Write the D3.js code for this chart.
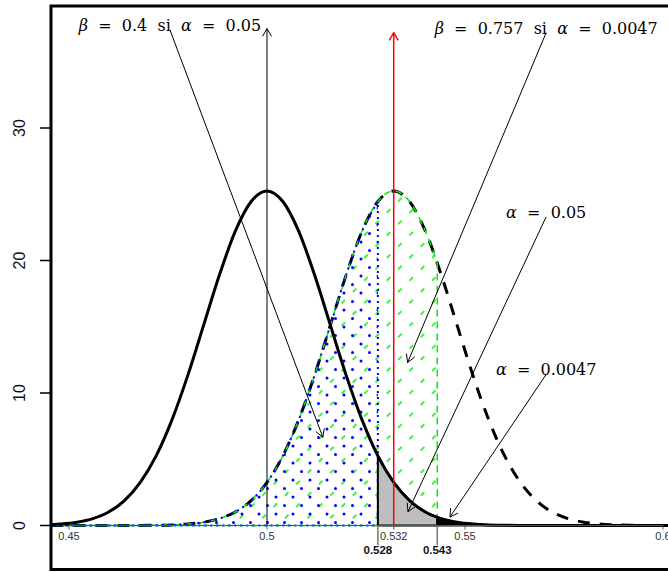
<!DOCTYPE html>
<html>
<head>
<meta charset="utf-8">
<script src="https://cdn.jsdelivr.net/npm/d3@7/dist/d3.min.js"></script>
<style>
    body { margin: 0; background: #ffffff; }
    svg { display: block; font-family: "Liberation Sans", Arial, sans-serif; }
</style>
</head>
<body>
<svg id="drawing_region"></svg>
<script>
// proportion grid and the two densities
const grid = [0.440, 0.444, 0.448, 0.452, 0.456, 0.460, 0.464, 0.468, 0.472, 0.476,
              0.480, 0.484, 0.488, 0.492, 0.496, 0.500, 0.504, 0.508, 0.512, 0.516,
              0.520, 0.524, 0.528, 0.532, 0.536, 0.540, 0.544, 0.548, 0.552, 0.556,
              0.560, 0.564, 0.568, 0.572, 0.576, 0.580, 0.584, 0.588, 0.592, 0.596,
              0.600, 0.604, 0.608, 0.612, 0.616, 0.620];
const densityH0 = [0.019, 0.047, 0.112, 0.250, 0.523, 1.02, 1.88, 3.25, 5.25, 7.97,
                   11.33, 15.12, 18.92, 22.21, 24.45, 25.25, 24.45, 22.21, 18.92, 15.12,
                   11.33, 7.97, 5.25, 3.25, 1.88, 1.02, 0.523, 0.250, 0.112, 0.047,
                   0.019, 0.007, 0.002, 0.001, 0, 0, 0, 0, 0, 0,
                   0, 0, 0, 0, 0, 0];
const densityH1 = [0, 0, 0, 0, 0, 0.001, 0.002, 0.007, 0.019, 0.047,
                   0.112, 0.250, 0.523, 1.02, 1.88, 3.25, 5.25, 7.97, 11.33, 15.12,
                   18.92, 22.21, 24.45, 25.25, 24.45, 22.21, 18.92, 15.12, 11.33, 7.97,
                   5.25, 3.25, 1.88, 1.02, 0.523, 0.250, 0.112, 0.047, 0.019, 0.007,
                   0.002, 0.001, 0, 0, 0, 0];

// critical values and the curve heights there
const cutoffs = [0.528, 0.543];
const h0AtCutoffs = [5.25, 0.62];
const h1AtCutoffs = [24.45, 19.82];

// means (vertical arrows)
const means = [0.5, 0.532];
const meanArrowTop = [37.5, 37.2];

const xTicks = [0.45, 0.5, 0.532, 0.55, 0.6];
const yTicks = [0, 10, 20, 30];

// annotations
const labels = ["β  =  0.4  si  α  =  0.05", "β  =  0.757  si  α  =  0.0047", "α  =  0.05", "α  =  0.0047"];
const labelX = [0.4755, 0.5705, 0.5705, 0.5705];
const labelY = [37.4, 37.2, 23.3, 11.4];
const arrowTipX = [0.5141, 0.5355, 0.5356, 0.5462];
const arrowTipY = [6.66, 12.3, 1.04, 0.64];

const config = {
    parent: '#drawing_region',
    width: 668,
    height: 572,
    box: {left: 51, top: 6, bottom: 569.5}
};

const svg = d3.select(config.parent)
    .attr('width', config.width)
    .attr('height', config.height);

const xscale = d3.scaleLinear().domain([0.45, 0.6]).range([69, 663]);
const yscale = d3.scaleLinear().domain([0, 30]).range([525.5, 128]);

const defs = svg.append('defs');
defs.append('clipPath').attr('id', 'plot_clip')
    .append('rect')
    .attr('x', config.box.left).attr('y', config.box.top)
    .attr('width', 800).attr('height', config.box.bottom - config.box.top);

// green dashed hatching (45 degrees)
const hatch = defs.append('pattern').attr('id', 'hatch')
    .attr('patternUnits', 'userSpaceOnUse')
    .attr('width', 16).attr('height', 16)
    .attr('patternTransform', 'rotate(45)');
hatch.append('line')
    .attr('x1', 8).attr('y1', 0).attr('x2', 8).attr('y2', 16)
    .attr('stroke', '#00ee00').attr('stroke-width', 1.5)
    .attr('stroke-dasharray', '5,11');

// blue staggered dots
const dots = defs.append('pattern').attr('id', 'dots')
    .attr('patternUnits', 'userSpaceOnUse')
    .attr('width', 17).attr('height', 17);
dots.append('circle')
    .attr('cx', 4).attr('cy', 4).attr('r', 1.5)
    .attr('fill', '#0000ff');
dots.append('circle')
    .attr('cx', 12.5).attr('cy', 12.5).attr('r', 1.5)
    .attr('fill', '#0000ff');

const chart = svg.append('g').attr('clip-path', 'url(#plot_clip)');

const pts = (ys) => grid.map((x, i) => ({x: x, y: ys[i]}));
const h0 = pts(densityH0);
const h1 = pts(densityH1);

const line = d3.line()
    .x(d => xscale(d.x)).y(d => yscale(d.y))
    .curve(d3.curveMonotoneX);
const area = d3.area()
    .x(d => xscale(d.x)).y0(yscale(0)).y1(d => yscale(d.y))
    .curve(d3.curveMonotoneX);

// alternative hypothesis, dashed
chart.append('path')
    .attr('d', line(h1))
    .attr('fill', 'none').attr('stroke', 'black')
    .attr('stroke-width', 3).attr('stroke-dasharray', '12,10');

// beta for alpha = 0.0047 (green hatch)
const greenPts = h1.filter(d => d.x < cutoffs[1]).concat([{x: cutoffs[1], y: h1AtCutoffs[1]}]);
chart.append('path')
    .attr('d', area(greenPts))
    .attr('fill', 'url(#hatch)')
    .attr('stroke', '#00ee00').attr('stroke-width', 1.5)
    .attr('stroke-dasharray', '7,5');

// beta for alpha = 0.05 (blue dots)
const bluePts = h1.filter(d => d.x < cutoffs[0]).concat([{x: cutoffs[0], y: h1AtCutoffs[0]}]);
chart.append('path')
    .attr('d', area(bluePts))
    .attr('fill', 'url(#dots)')
    .attr('stroke', '#0000ff').attr('stroke-width', 2)
    .attr('stroke-dasharray', '2,4');

// alpha between the two critical values (grey)
const greyPts = [{x: cutoffs[0], y: h0AtCutoffs[0]}]
    .concat(h0.filter(d => d.x > cutoffs[0] && d.x < cutoffs[1]))
    .concat([{x: cutoffs[1], y: h0AtCutoffs[1]}]);
chart.append('path')
    .attr('d', area(greyPts))
    .attr('fill', '#bebebe')
    .attr('stroke', 'black').attr('stroke-width', 2);

// alpha = 0.0047 tail (black)
const blackPts = [{x: cutoffs[1], y: h0AtCutoffs[1]}]
    .concat(h0.filter(d => d.x > cutoffs[1]));
chart.append('path')
    .attr('d', area(blackPts))
    .attr('fill', 'black')
    .attr('stroke', 'black').attr('stroke-width', 2);

// null hypothesis, solid
chart.append('path')
    .attr('d', line(h0))
    .attr('fill', 'none').attr('stroke', 'black')
    .attr('stroke-width', 3);

// arrows
function arrow(g, x0, y0, x1, y1, color, width) {
    g.append('line')
        .attr('x1', x0).attr('y1', y0).attr('x2', x1).attr('y2', y1)
        .attr('stroke', color).attr('stroke-width', width);
    const a = Math.atan2(y1 - y0, x1 - x0);
    const len = 9;
    [Math.PI / 6, -Math.PI / 6].forEach(w => {
        g.append('line')
            .attr('x1', x1).attr('y1', y1)
            .attr('x2', x1 - len * Math.cos(a + w))
            .attr('y2', y1 - len * Math.sin(a + w))
            .attr('stroke', color).attr('stroke-width', width);
    });
}

means.forEach((m, i) => {
    arrow(chart, xscale(m), yscale(0), xscale(m), yscale(meanArrowTop[i]),
          i === 0 ? 'black' : '#ff0000', i === 0 ? 1 : 1.5);
});

labels.forEach((t, i) => {
    arrow(chart, xscale(labelX[i]), yscale(labelY[i]),
          xscale(arrowTipX[i]), yscale(arrowTipY[i]), 'black', 1);
});

// annotation text
labels.forEach((t, i) => {
    const text = svg.append('text')
        .attr('x', xscale(labelX[i]))
        .attr('y', yscale(labelY[i]) + 1)
        .attr('text-anchor', 'middle')
        .attr('font-family', '"DejaVu Serif", serif')
        .attr('font-size', 16)
        .attr('fill', 'black')
        .attr('xml:space', 'preserve')
        .style('white-space', 'pre');
    t.split(/([αβ])/).filter(s => s.length).forEach(s => {
        text.append('tspan')
            .attr('font-style', /[αβ]/.test(s) ? 'italic' : 'normal')
            .text(s);
    });
});

// x axis at y = 0
const axisG = svg.append('g');
axisG.append('line')
    .attr('x1', xscale(0.45)).attr('x2', xscale(0.6))
    .attr('y1', yscale(0)).attr('y2', yscale(0))
    .attr('stroke', '#555');
axisG.selectAll('.xtick').data(xTicks).enter().append('line')
    .attr('x1', d => xscale(d)).attr('x2', d => xscale(d))
    .attr('y1', yscale(0)).attr('y2', yscale(0) + 4)
    .attr('stroke', '#555');
axisG.selectAll('.xlabel').data(xTicks).enter().append('text')
    .attr('x', d => xscale(d)).attr('y', 540)
    .attr('text-anchor', 'middle')
    .attr('font-size', 11).attr('fill', '#333')
    .text(d => d);
axisG.selectAll('.ctick').data(cutoffs).enter().append('line')
    .attr('x1', d => xscale(d)).attr('x2', d => xscale(d))
    .attr('y1', yscale(0)).attr('y2', 545)
    .attr('stroke', '#777').attr('stroke-width', 1.5);
axisG.selectAll('.clabel').data(cutoffs).enter().append('text')
    .attr('x', d => xscale(d)).attr('y', 554)
    .attr('text-anchor', 'middle')
    .attr('font-size', 11.5).attr('font-weight', 'bold').attr('fill', '#111')
    .text(d => d);

// y axis
const yG = svg.append('g');
yG.selectAll('line').data(yTicks).enter().append('line')
    .attr('x1', 40).attr('x2', config.box.left)
    .attr('y1', d => yscale(d)).attr('y2', d => yscale(d))
    .attr('stroke', 'black').attr('stroke-width', 1.5);
yG.selectAll('text').data(yTicks).enter().append('text')
    .attr('transform', d => `translate(25, ${yscale(d)}) rotate(-90)`)
    .attr('text-anchor', 'middle')
    .attr('font-size', 16).attr('fill', '#111')
    .text(d => d);

// plot box (right side runs past the window)
svg.append('rect')
    .attr('x', config.box.left).attr('y', config.box.top)
    .attr('width', 800).attr('height', config.box.bottom - config.box.top)
    .attr('fill', 'none').attr('stroke', 'black').attr('stroke-width', 3);
</script>
</body>
</html>
